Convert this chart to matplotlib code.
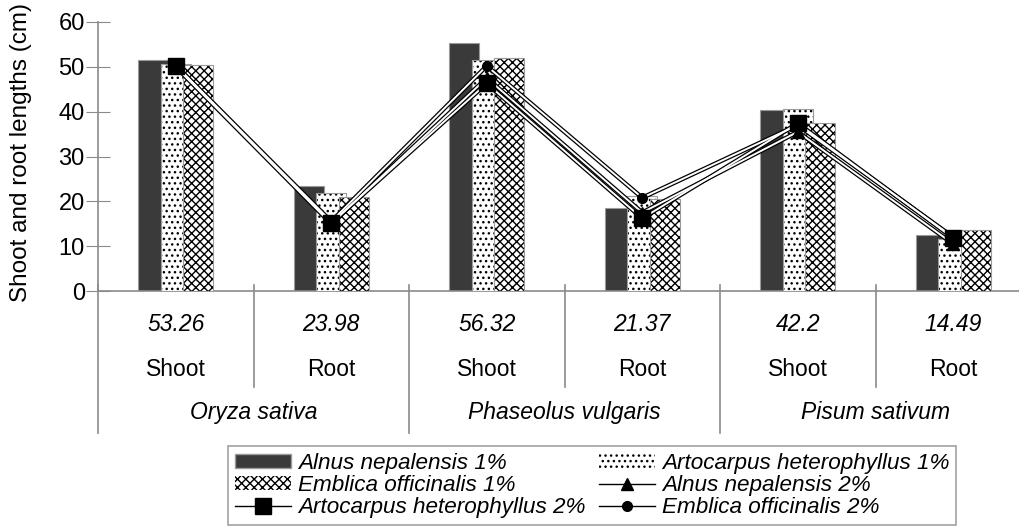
import matplotlib.pyplot as plt
import numpy as np
from matplotlib.lines import Line2D

plt.rcParams['font.family'] = ['Liberation Sans', 'DejaVu Sans']
plt.rcParams['hatch.linewidth'] = 1.0

parts = ["Shoot", "Root", "Shoot", "Root", "Shoot", "Root"]
control = ["53.26", "23.98", "56.32", "21.37", "42.2", "14.49"]
species = ["Oryza sativa", "Phaseolus vulgaris", "Pisum sativum"]

alnus1 = [51.5, 23.4, 55.4, 18.5, 40.4, 12.5]
arto1 = [50.6, 21.9, 51.6, 21.2, 40.6, 11.5]
embl1 = [50.3, 21.0, 52.0, 20.5, 37.5, 13.6]
alnus2 = [50.0, 15.0, 47.5, 17.5, 35.5, 10.5]
arto2 = [50.2, 15.2, 46.3, 16.2, 37.4, 11.8]
embl2 = [50.3, 15.5, 50.2, 20.8, 37.0, 12.0]

fig = plt.figure(figsize=(10.19, 5.26), dpi=100)
ax = fig.add_axes([98/1019, 235/526, 933/1019, 269/526])

x = np.arange(len(parts))
w = 0.193
step = 0.145
gray = '#8a8a8a'

ax.bar(x - step, alnus1, w, color='#3a3a3a', edgecolor='#9a9a9a', lw=0.8, zorder=2)
ax.bar(x, arto1, w, color='white', edgecolor='black', hatch='...', lw=0, zorder=3)
ax.bar(x + step, embl1, w, color='white', edgecolor='black', hatch='xxxx', lw=0, zorder=4)
# outline bars in light gray over the hatch
ax.bar(x, arto1, w, color='none', edgecolor='#9a9a9a', lw=0.8, zorder=3.1)
ax.bar(x + step, embl1, w, color='none', edgecolor='#9a9a9a', lw=0.8, zorder=4.1)

series = [(alnus2, '^', 8), (arto2, 's', 12), (embl2, 'o', 7)]
for vals, mk, ms in series:
    ax.plot(x, vals, color='black', lw=3.2, zorder=5, solid_capstyle='butt')
    ax.plot(x, vals, color='white', lw=1.4, zorder=6)
for vals, mk, ms in series:
    ax.plot(x, vals, ls='none', marker=mk, ms=ms, color='black', zorder=7)

ax.set_xlim(-0.5, 5.5)
ax.set_ylim(0, 60)
ax.set_yticks(range(0, 61, 10))
ax.tick_params(axis='y', direction='inout', length=17, color=gray, labelsize=17, pad=1)
ax.set_xticks([])
for s in ['top', 'right']:
    ax.spines[s].set_visible(False)
for s in ['left', 'bottom']:
    ax.spines[s].set_color(gray)
    ax.spines[s].set_linewidth(1.2)
ax.set_ylabel("Shoot and root lengths (cm)", fontsize=17.5)
ax.yaxis.set_label_coords(-0.071, 0.515)

trans = ax.get_xaxis_transform()
for i in range(len(parts)):
    ax.text(x[i], -0.123, control[i], transform=trans, ha='center', va='center',
            fontsize=16.5, style='italic')
    ax.text(x[i], -0.29, parts[i], transform=trans, ha='center', va='center', fontsize=16.5)
for j, sp in enumerate(species):
    ax.text(2 * j + 0.5, -0.45, sp, transform=trans, ha='center', va='center',
            fontsize=16.5, style='italic')
for xb in [0.5, 2.5, 4.5]:
    ax.plot([xb, xb], [0.022, -0.357], transform=trans, color=gray, lw=1.2, clip_on=False)
for xb in [-0.5, 1.5, 3.5, 5.5]:
    ax.plot([xb, xb], [0.022, -0.528], transform=trans, color=gray, lw=1.2, clip_on=False)

h_alnus1 = plt.Rectangle((0, 0), 1, 1, facecolor='#3a3a3a', edgecolor='#9a9a9a')
h_arto1 = plt.Rectangle((0, 0), 1, 1, facecolor='white', edgecolor='black', hatch='...', lw=0)
h_embl1 = plt.Rectangle((0, 0), 1, 1, facecolor='white', edgecolor='black', hatch='xxxx', lw=0)
h_alnus2 = Line2D([], [], color='black', lw=1, marker='^', ms=8)
h_arto2 = Line2D([], [], color='black', lw=1, marker='s', ms=12)
h_embl2 = Line2D([], [], color='black', lw=1, marker='o', ms=7)

handles = [h_alnus1, h_embl1, h_arto2, h_arto1, h_alnus2, h_embl2]
labels = ["Alnus nepalensis 1%", "Emblica officinalis 1%", "Artocarpus heterophyllus 2%",
          "Artocarpus heterophyllus 1%", "Alnus nepalensis 2%", "Emblica officinalis 2%"]
leg = fig.legend(handles, labels, loc='center', bbox_to_anchor=(0.581, 0.077), ncol=2,
                 prop={'size': 16.2, 'style': 'italic'}, frameon=True, fancybox=False,
                 edgecolor=gray, handlelength=2.5, handleheight=0.55, labelspacing=0.05,
                 columnspacing=0.6, handletextpad=0.3, borderpad=0.3)
leg.get_frame().set_linewidth(1.2)

fig.savefig("out.png", dpi=100)
